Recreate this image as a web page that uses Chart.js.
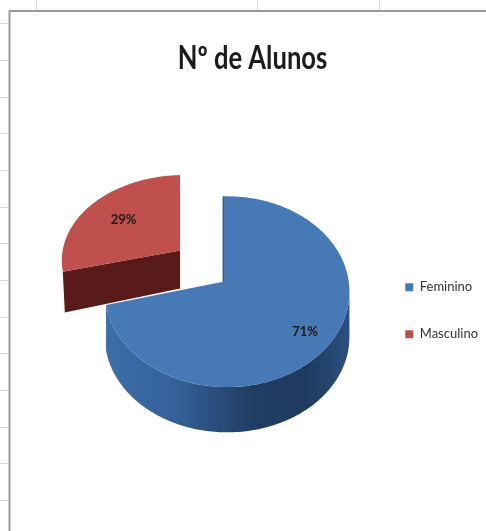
<!DOCTYPE html>
<html>
<head>
<meta charset="utf-8">
<style>
html,body{margin:0;padding:0;background:#fff;overflow:hidden}
#box{width:486px;height:531px;position:relative}
</style>
<script src="https://cdn.jsdelivr.net/npm/chart.js@4"></script>
</head>
<body>
<div id="box"><canvas id="c" width="486" height="531"></canvas></div>
<script>
// Pie of students by gender, tilted into a 3D view with the smaller slice pulled out.
const categories = ['Feminino', 'Masculino'];
const percentValues = [71, 29];
const chartTitle = 'Nº de Alunos';
const sliceColors = ['#4779b6', '#c0504d'];
const cutFaceColors = ['#24456f', '#591b19'];

// Sheet lines behind the chart frame.
const sheetRowLines = [23, 60, 97, 133, 170, 207, 243, 280, 317, 353, 390, 427, 463, 500];
const sheetColumnLines = [36, 257, 379];

const tilt = {
  squash: 0.78,          // vertical size of the tilted disc relative to its width
  apexX: -0.033,         // slice apex relative to the disc centre, in radii
  apexY: -0.082,
  depth: 0.37,           // wall height, in radii
  pulledX: -0.352,       // offset of the pulled-out slice, in radii
  pulledY: -0.254,
  pulledSquash: 0.70,
  pulledDepth: 0.31
};
const labelReach = [0.78, 0.65];   // label distance from the apex, as a share of the rim distance
const titleNarrowing = 0.8;        // horizontal squeeze of the title lettering

// Where a ray from the apex at the given element angle meets the tilted rim.
function rimPoint(cx, cy, rx, ry, ax, ay, angle) {
  const phi = angle + Math.PI / 2;
  const dx = Math.sin(phi) * rx, dy = -Math.cos(phi) * ry;
  const ox = (ax - cx) / rx, oy = (ay - cy) / ry;
  const px = dx / rx, py = dy / ry;
  const a = px * px + py * py, b = 2 * (ox * px + oy * py), c = ox * ox + oy * oy - 1;
  const t = (-b + Math.sqrt(b * b - 4 * a * c)) / (2 * a);
  return { x: ax + dx * t, y: ay + dy * t };
}

function sampleRim(disc, start, end) {
  const pts = [];
  const steps = Math.max(2, Math.ceil((end - start) / 0.02));
  for (let i = 0; i <= steps; i++) {
    pts.push(rimPoint(disc.cx, disc.cy, disc.rx, disc.ry, disc.ax, disc.ay, start + (end - start) * i / steps));
  }
  return pts;
}

function discFor(arc, pulled) {
  const r = arc.outerRadius;
  const cx = arc.x + (pulled ? tilt.pulledX * r : 0);
  const cy = arc.y + (pulled ? tilt.pulledY * r : 0);
  const ry = r * (pulled ? tilt.pulledSquash : tilt.squash);
  return { cx, cy, rx: r, ry, ax: cx + tilt.apexX * r, ay: cy + tilt.apexY * r,
           depth: r * (pulled ? tilt.pulledDepth : tilt.depth) };
}

function trace(ctx, pts) {
  pts.forEach(p => ctx.lineTo(p.x, p.y));
}

const sheetBackdrop = {
  id: 'sheetBackdrop',
  afterLayout(chart) {
    // Nudge the legend and title off the positions the layout gave them.
    chart.legend.top += 19;
    chart.legend.bottom += 19;
    chart.legend.left += 4;
    chart.legend.right += 4;
    const block = chart.titleBlock;
    block.left -= 33;
    block.right -= 33;
    if (!block.narrowed) {
      const drawTitle = block.draw.bind(block);
      block.draw = function (area) {
        const ctx = block.ctx;
        const mid = (block.left + block.right) / 2;
        ctx.save();
        ctx.translate(mid, 0);
        ctx.scale(titleNarrowing, 1);
        ctx.translate(-mid, 0);
        drawTitle(area);
        ctx.restore();
      };
      block.narrowed = true;
    }
  },
  beforeDraw(chart) {
    const ctx = chart.ctx;
    ctx.save();
    ctx.strokeStyle = '#d9d9d9';
    ctx.lineWidth = 1;
    sheetRowLines.forEach(y => {
      ctx.beginPath(); ctx.moveTo(0, y + 0.5); ctx.lineTo(9, y + 0.5); ctx.stroke();
    });
    sheetColumnLines.forEach(x => {
      ctx.beginPath(); ctx.moveTo(x + 0.5, 0); ctx.lineTo(x + 0.5, 11); ctx.stroke();
    });
    ctx.strokeStyle = '#9a9a9a';
    ctx.lineWidth = 2;
    ctx.beginPath(); ctx.moveTo(486, 11); ctx.lineTo(9.5, 11); ctx.lineTo(9.5, 531); ctx.stroke();
    ctx.restore();
  }
};

const tiltedPie = {
  id: 'tiltedPie',
  beforeDatasetDraw(chart, args) {
    const ctx = chart.ctx;
    const arcs = chart.getDatasetMeta(args.index).data;
    const main = arcs[0], small = arcs[1];
    const smallDisc = discFor(small, true), mainDisc = discFor(main, false);
    const smallRim = sampleRim(smallDisc, small.startAngle, small.endAngle);
    const mainRim = sampleRim(mainDisc, main.startAngle, main.endAngle);
    ctx.save();

    // Pulled-out slice: cut face first, then its top.
    const sl = smallRim[0];
    ctx.beginPath();
    ctx.moveTo(smallDisc.ax, smallDisc.ay);
    ctx.lineTo(sl.x, sl.y);
    ctx.lineTo(sl.x + 2, sl.y + smallDisc.depth + 3);
    ctx.lineTo(smallDisc.ax, smallDisc.ay + smallDisc.depth);
    ctx.closePath();
    ctx.fillStyle = cutFaceColors[1];
    ctx.fill();

    ctx.beginPath();
    ctx.moveTo(smallDisc.ax, smallDisc.ay);
    trace(ctx, smallRim);
    ctx.closePath();
    ctx.fillStyle = small.options.backgroundColor;
    ctx.fill();

    // Outer wall of the large slice, lit from the left.
    const lower = mainRim.filter(p => p.y >= mainDisc.cy);
    const grad = ctx.createLinearGradient(mainDisc.cx - mainDisc.rx, 0, mainDisc.cx + mainDisc.rx, 0);
    grad.addColorStop(0, '#3d6ea8');
    grad.addColorStop(0.28, '#35619a');
    grad.addColorStop(0.6, '#203e64');
    grad.addColorStop(0.82, '#1e3a5e');
    grad.addColorStop(1, '#2b5080');
    ctx.beginPath();
    ctx.moveTo(lower[0].x, lower[0].y);
    trace(ctx, lower);
    for (let i = lower.length - 1; i >= 0; i--) {
      ctx.lineTo(lower[i].x, lower[i].y + mainDisc.depth);
    }
    ctx.closePath();
    ctx.fillStyle = grad;
    ctx.fill();

    // Top of the large slice.
    ctx.beginPath();
    ctx.moveTo(mainDisc.ax, mainDisc.ay);
    trace(ctx, mainRim);
    ctx.closePath();
    ctx.fillStyle = main.options.backgroundColor;
    ctx.fill();

    // Edge of the cut along the slice start.
    ctx.beginPath();
    ctx.moveTo(mainDisc.ax, mainDisc.ay);
    ctx.lineTo(mainRim[0].x, mainRim[0].y);
    ctx.strokeStyle = cutFaceColors[0];
    ctx.lineWidth = 1;
    ctx.stroke();

    // Percentage labels inside each slice.
    ctx.fillStyle = '#1a1a1a';
    ctx.font = '700 13px Lato, sans-serif';
    ctx.textAlign = 'center';
    ctx.textBaseline = 'middle';
    [[main, mainDisc], [small, smallDisc]].forEach(([arc, disc], i) => {
      const mid = (arc.startAngle + arc.endAngle) / 2;
      const p = rimPoint(disc.cx, disc.cy, disc.rx, disc.ry, disc.ax, disc.ay, mid);
      const x = disc.ax + (p.x - disc.ax) * labelReach[i], y = disc.ay + (p.y - disc.ay) * labelReach[i];
      ctx.fillText(percentValues[i] + '%', x, y);
    });
    ctx.restore();
    return false;
  }
};

new Chart(document.getElementById('c'), {
  type: 'pie',
  data: {
    labels: categories,
    datasets: [{ data: percentValues, backgroundColor: sliceColors, borderWidth: 0 }]
  },
  options: {
    responsive: false,
    animation: false,
    layout: { padding: { left: 87, right: 2, top: 0, bottom: 117 } },
    plugins: {
      title: {
        display: true,
        text: chartTitle,
        color: '#1c1c1c',
        font: { family: 'Lato, sans-serif', size: 32, weight: '700' },
        padding: { top: 39, bottom: 92 }
      },
      legend: {
        position: 'right',
        fullSize: false,
        labels: {
          boxWidth: 8,
          boxHeight: 8,
          padding: 34,
          color: '#333333',
          font: { family: 'Lato, sans-serif', size: 13 }
        }
      },
      tooltip: { enabled: false }
    }
  },
  plugins: [sheetBackdrop, tiltedPie]
});
</script>
</body>
</html>
